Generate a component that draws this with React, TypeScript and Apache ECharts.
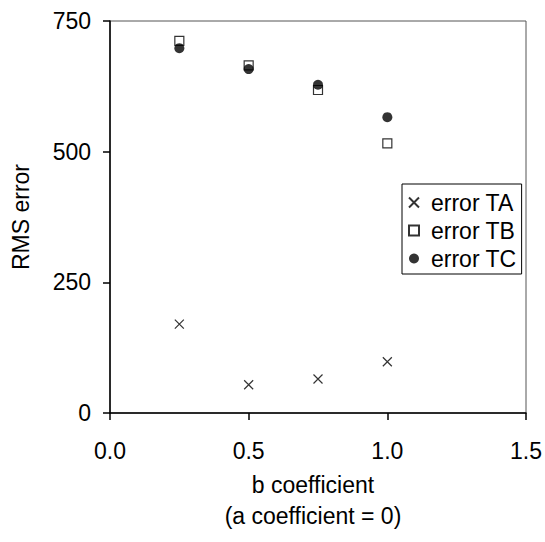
import React, { useEffect, useRef } from "react";
import * as echarts from "echarts";

const bValues = [0.25, 0.5, 0.75, 1.0];
const errorTA = [170, 54, 65, 98];
const errorTB = [712, 665, 618, 516];
const errorTC = [698, 658, 628, 566];
const seriesNames = ["error TA", "error TB", "error TC"];

const FONT = "'Liberation Sans', Arial, sans-serif";
const FS = 23;
const crossPath = "path://M0,0L10,10M10,0L0,10";

export default function App() {
  const ref = useRef<HTMLDivElement>(null);
  useEffect(() => {
    if (!ref.current) return;
    const chart = echarts.init(ref.current, undefined, { renderer: "svg" });
    const pair = (ys: number[]) => bValues.map((x, i) => [x, ys[i]]);
    chart.setOption({
      animation: false,
      backgroundColor: "#fff",
      textStyle: { fontFamily: FONT, color: "#000" },
      grid: {
        left: 110,
        right: 19,
        top: 21,
        bottom: 129,
        show: true,
        borderColor: "#555",
        borderWidth: 1,
      },
      legend: {
        orient: "vertical",
        left: 402,
        top: 184,
        backgroundColor: "#fff",
        borderColor: "#000",
        borderWidth: 1,
        borderRadius: 0,
        padding: [7, 5, 4, 6],
        itemGap: 5,
        itemWidth: 10,
        itemHeight: 10,
        textStyle: { fontFamily: FONT, fontSize: FS, color: "#000", padding: [0, 0, 0, 7] },
        data: seriesNames,
      },
      xAxis: {
        type: "value",
        min: 0,
        max: 1.5,
        interval: 0.5,
        name: "b coefficient\n(a coefficient = 0)",
        nameLocation: "middle",
        nameGap: 56,
        nameTextStyle: {
          fontFamily: FONT,
          fontSize: FS,
          color: "#000",
          lineHeight: 31,
          verticalAlign: "top",
          padding: [0, 10, 0, 0],
        },
        axisLine: { onZero: false, lineStyle: { color: "#000", width: 1.5 } },
        axisTick: { show: true, length: 7, lineStyle: { color: "#000", width: 1.5 } },
        axisLabel: {
          fontFamily: FONT,
          fontSize: FS,
          color: "#000",
          margin: 26,
          formatter: (v: number) => v.toFixed(1),
        },
        splitLine: { show: false },
      },
      yAxis: {
        type: "value",
        min: 0,
        max: 750,
        interval: 250,
        name: "RMS error",
        nameLocation: "middle",
        nameGap: 78,
        nameTextStyle: { fontFamily: FONT, fontSize: FS, color: "#000" },
        axisLine: { onZero: false, lineStyle: { color: "#000", width: 1.5 } },
        axisTick: { show: true, length: 7, lineStyle: { color: "#000", width: 1.5 } },
        axisLabel: { fontFamily: FONT, fontSize: FS, color: "#000", margin: 19 },
        splitLine: { show: false },
      },
      series: [
        {
          name: seriesNames[0],
          type: "scatter",
          data: pair(errorTA),
          symbol: crossPath,
          symbolSize: 9,
          itemStyle: { color: "transparent", borderColor: "#000", borderWidth: 1.2 },
        },
        {
          name: seriesNames[1],
          type: "scatter",
          data: pair(errorTB),
          symbol: "rect",
          symbolSize: 9,
          itemStyle: { color: "#fff", borderColor: "#000", borderWidth: 1.2 },
        },
        {
          name: seriesNames[2],
          type: "scatter",
          data: pair(errorTC),
          symbol: "circle",
          symbolSize: 10,
          itemStyle: { color: "#000" },
        },
      ],
    });
    return () => chart.dispose();
  }, []);
  return <div ref={ref} style={{ width: 545, height: 542, position: "absolute", left: 0, top: 0 }} />;
}
